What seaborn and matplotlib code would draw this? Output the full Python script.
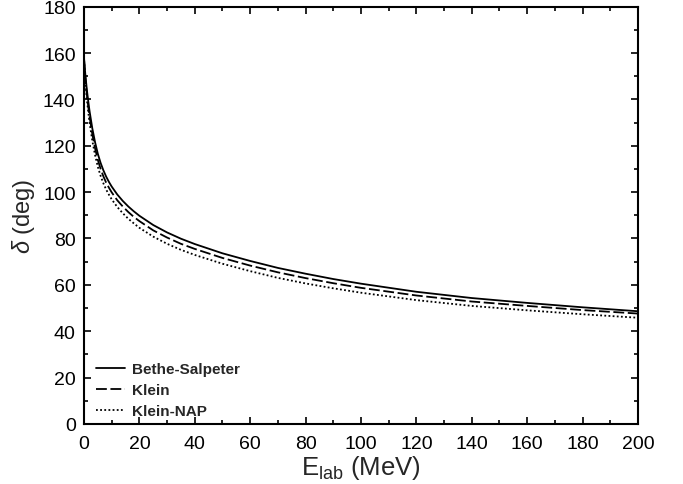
import numpy as np
import pandas as pd
import seaborn as sns
import matplotlib
matplotlib.use("Agg")
import matplotlib.pyplot as plt
from matplotlib.ticker import MultipleLocator

# energias (MeV) e defasagens (graus)
e_lab = [0, 0.25, 0.5, 1, 1.5, 2, 3, 4, 5, 6, 7, 8, 9, 10, 12, 14, 16, 18,
         20, 25, 30, 35, 40, 50, 60, 70, 80, 90, 100, 120, 140, 160, 180, 200]
delta_bs = [158, 154, 150.5, 144.5, 139.5, 135, 127.5, 121.5, 116.5, 112.6,
            109.4, 106.7, 104.4, 102.4, 99.0, 96.2, 93.8, 91.7, 89.8, 85.8,
            82.6, 79.9, 77.6, 73.6, 70.3, 67.3, 64.8, 62.5, 60.5, 57, 54.3,
            52.2, 50.3, 48.6]
delta_klein = [157.5, 153, 149, 142.5, 137.3, 132.6, 125, 118.9, 113.9, 110,
               106.8, 104.1, 101.9, 99.9, 96.5, 93.8, 91.4, 89.3, 87.5, 83.5,
               80.4, 77.7, 75.5, 71.6, 68.3, 65.4, 62.9, 60.7, 58.7, 55.4,
               52.8, 50.9, 49.1, 47.6]
delta_nap = [157, 152, 147.5, 140.5, 135, 130, 122.2, 116, 110.9, 107, 103.8,
             101.1, 98.9, 96.9, 93.6, 90.9, 88.5, 86.5, 84.6, 80.8, 77.7,
             75.1, 72.9, 69.1, 65.9, 63, 60.6, 58.5, 56.6, 53.4, 50.9, 49,
             47.3, 45.8]

modelos = ["Bethe-Salpeter", "Klein", "Klein-NAP"]
df = pd.DataFrame({
    "E": e_lab * 3,
    "delta": delta_bs + delta_klein + delta_nap,
    "modelo": np.repeat(modelos, len(e_lab)),
})

sns.set_style("ticks")
plt.rcParams["font.family"] = ["Liberation Sans", "DejaVu Sans"]
plt.rcParams["mathtext.fontset"] = "custom"
plt.rcParams["mathtext.rm"] = "Liberation Sans"
plt.rcParams["mathtext.it"] = "Liberation Sans:italic"

fig = plt.figure(figsize=(6.83, 4.85), dpi=100)
ax = fig.add_axes([0.123, 0.124, 0.811, 0.86])

sns.lineplot(data=df, x="E", y="delta", hue="modelo", style="modelo",
             palette=["black"] * 3,
             dashes={"Bethe-Salpeter": "", "Klein": (6, 2), "Klein-NAP": (1, 1.3)},
             linewidth=1.3, ax=ax)

ax.set_xlim(0, 200)
ax.set_ylim(0, 180)
ax.xaxis.set_major_locator(MultipleLocator(20))
ax.xaxis.set_minor_locator(MultipleLocator(10))
ax.yaxis.set_major_locator(MultipleLocator(20))
ax.yaxis.set_minor_locator(MultipleLocator(10))
ax.tick_params(which="both", direction="in", top=True, right=True,
               width=1.2, colors="black")
ax.tick_params(which="major", length=5, labelsize=14)
ax.tick_params(axis="x", which="major", pad=8)
ax.tick_params(axis="y", which="major", pad=6)
ax.tick_params(which="minor", length=3)
for s in ax.spines.values():
    s.set_linewidth(1.5)
    s.set_color("black")

ax.set_xlabel(r"E$_{\mathrm{lab}}$ (MeV)", fontsize=18.5, labelpad=1)
ax.set_ylabel(r"$\delta$ (deg)", fontsize=17, labelpad=4)

ax.legend(loc="lower left", bbox_to_anchor=(0.006, -0.006), frameon=False,
          handlelength=1.9, handletextpad=0.5, labelspacing=0.45,
          borderaxespad=0.15, prop={"size": 11, "weight": "bold"})

fig.savefig("out.png", dpi=100)
